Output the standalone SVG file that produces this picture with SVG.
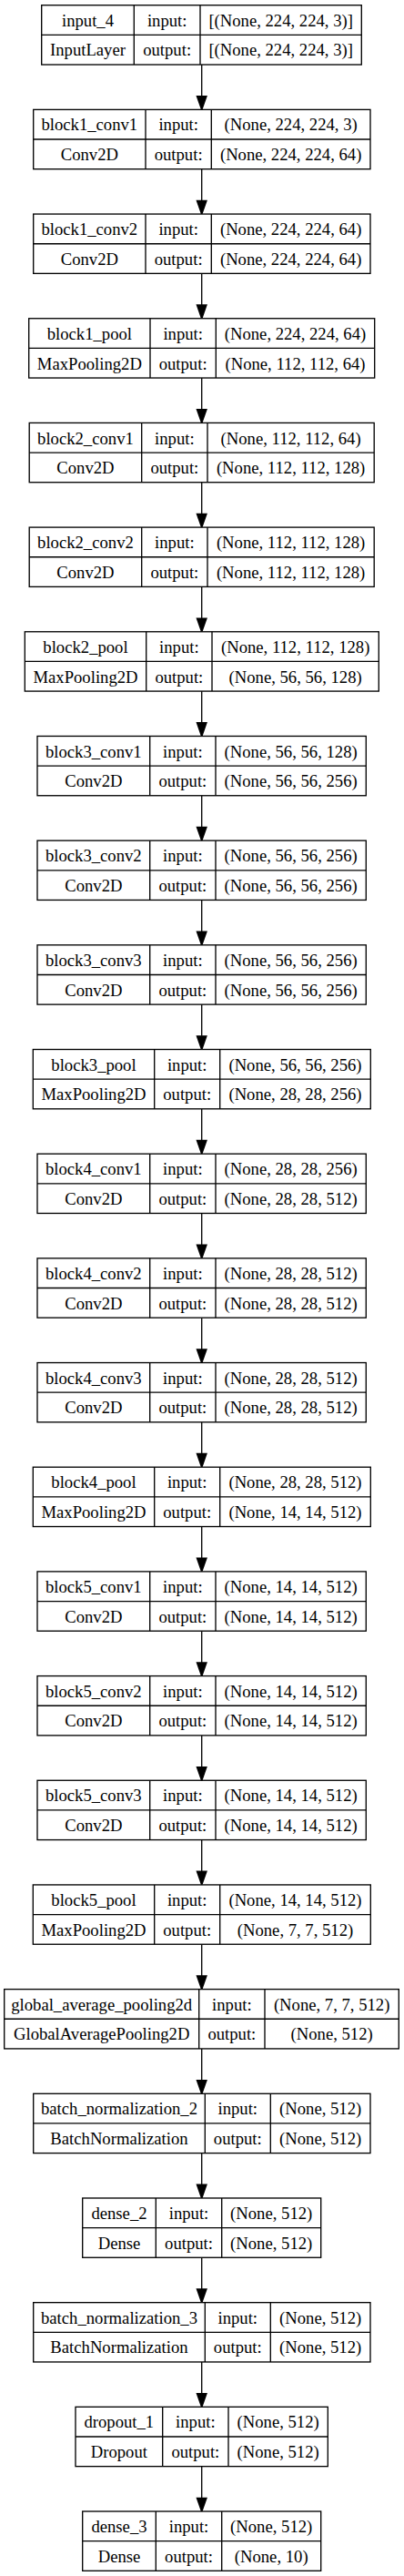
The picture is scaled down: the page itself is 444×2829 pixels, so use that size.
<svg xmlns="http://www.w3.org/2000/svg" width="444" height="2829" viewBox="0 0 444 2829">
<style>
.n rect{fill:#fff;stroke:#000;stroke-width:1.33}
.n path{fill:none;stroke:#000;stroke-width:1.33}
.n text{font-family:"Liberation Serif","Times New Roman",serif;font-size:18.67px;text-anchor:middle;fill:#000}
.e line{stroke:#000;stroke-width:1.33}
</style>
<defs>
<marker id="ah" markerUnits="userSpaceOnUse" markerWidth="20" markerHeight="20" refX="0" refY="0" orient="auto" overflow="visible" viewBox="-2 -8 18 16">
<path d="M0,-4.67 L13.33,0 L0,4.67 Z" fill="#000" stroke="#000" stroke-width="1.33"/>
</marker>
</defs>
<rect width="444" height="2829" fill="#fff"/>
<g id="edges" class="e">
<line x1="221.7" y1="71" x2="221.7" y2="105.75" marker-end="url(#ah)"/>
<line x1="221.7" y1="185.68" x2="221.7" y2="220.43" marker-end="url(#ah)"/>
<line x1="221.7" y1="300.36" x2="221.7" y2="335.11" marker-end="url(#ah)"/>
<line x1="221.7" y1="415.04" x2="221.7" y2="449.79" marker-end="url(#ah)"/>
<line x1="221.7" y1="529.72" x2="221.7" y2="564.47" marker-end="url(#ah)"/>
<line x1="221.7" y1="644.4" x2="221.7" y2="679.15" marker-end="url(#ah)"/>
<line x1="221.7" y1="759.08" x2="221.7" y2="793.83" marker-end="url(#ah)"/>
<line x1="221.7" y1="873.76" x2="221.7" y2="908.51" marker-end="url(#ah)"/>
<line x1="221.7" y1="988.44" x2="221.7" y2="1023.19" marker-end="url(#ah)"/>
<line x1="221.7" y1="1103.12" x2="221.7" y2="1137.87" marker-end="url(#ah)"/>
<line x1="221.7" y1="1217.8" x2="221.7" y2="1252.55" marker-end="url(#ah)"/>
<line x1="221.7" y1="1332.48" x2="221.7" y2="1367.23" marker-end="url(#ah)"/>
<line x1="221.7" y1="1447.16" x2="221.7" y2="1481.91" marker-end="url(#ah)"/>
<line x1="221.7" y1="1561.84" x2="221.7" y2="1596.59" marker-end="url(#ah)"/>
<line x1="221.7" y1="1676.52" x2="221.7" y2="1711.27" marker-end="url(#ah)"/>
<line x1="221.7" y1="1791.2" x2="221.7" y2="1825.95" marker-end="url(#ah)"/>
<line x1="221.7" y1="1905.88" x2="221.7" y2="1940.63" marker-end="url(#ah)"/>
<line x1="221.7" y1="2020.56" x2="221.7" y2="2055.31" marker-end="url(#ah)"/>
<line x1="221.7" y1="2135.24" x2="221.7" y2="2169.99" marker-end="url(#ah)"/>
<line x1="221.7" y1="2249.92" x2="221.7" y2="2284.67" marker-end="url(#ah)"/>
<line x1="221.7" y1="2364.6" x2="221.7" y2="2399.35" marker-end="url(#ah)"/>
<line x1="221.7" y1="2479.28" x2="221.7" y2="2514.03" marker-end="url(#ah)"/>
<line x1="221.7" y1="2593.96" x2="221.7" y2="2628.71" marker-end="url(#ah)"/>
<line x1="221.7" y1="2708.64" x2="221.7" y2="2743.39" marker-end="url(#ah)"/>
</g>
<g id="input_4" class="n" transform="translate(0,5.7)"><rect x="45.7" y="0" width="351.6" height="65.3"/><path d="M45.7,32.65H397.3M147.3,0V65.3M220,0V65.3"/><text x="96.5" y="23.1">input_4</text><text x="183.65" y="23.1">input:</text><text x="308.65" y="23.1">[(None, 224, 224, 3)]</text><text x="96.5" y="55.8">InputLayer</text><text x="183.65" y="55.8">output:</text><text x="308.65" y="55.8">[(None, 224, 224, 3)]</text></g>
<g id="block1_conv1" class="n" transform="translate(0,120.38)"><rect x="36.7" y="0" width="370.3" height="65.3"/><path d="M36.7,32.65H407M160,0V65.3M232.3,0V65.3"/><text x="98.35" y="23.1">block1_conv1</text><text x="196.15" y="23.1">input:</text><text x="319.65" y="23.1">(None, 224, 224, 3)</text><text x="98.35" y="55.8">Conv2D</text><text x="196.15" y="55.8">output:</text><text x="319.65" y="55.8">(None, 224, 224, 64)</text></g>
<g id="block1_conv2" class="n" transform="translate(0,235.06)"><rect x="36.7" y="0" width="370.3" height="65.3"/><path d="M36.7,32.65H407M160,0V65.3M232.3,0V65.3"/><text x="98.35" y="23.1">block1_conv2</text><text x="196.15" y="23.1">input:</text><text x="319.65" y="23.1">(None, 224, 224, 64)</text><text x="98.35" y="55.8">Conv2D</text><text x="196.15" y="55.8">output:</text><text x="319.65" y="55.8">(None, 224, 224, 64)</text></g>
<g id="block1_pool" class="n" transform="translate(0,349.74)"><rect x="31.7" y="0" width="380" height="65.3"/><path d="M31.7,32.65H411.7M165,0V65.3M237.3,0V65.3"/><text x="98.35" y="23.1">block1_pool</text><text x="201.15" y="23.1">input:</text><text x="324.5" y="23.1">(None, 224, 224, 64)</text><text x="98.35" y="55.8">MaxPooling2D</text><text x="201.15" y="55.8">output:</text><text x="324.5" y="55.8">(None, 112, 112, 64)</text></g>
<g id="block2_conv1" class="n" transform="translate(0,464.42)"><rect x="32.2" y="0" width="379" height="65.3"/><path d="M32.2,32.65H411.2M155.7,0V65.3M228,0V65.3"/><text x="93.95" y="23.1">block2_conv1</text><text x="191.85" y="23.1">input:</text><text x="319.6" y="23.1">(None, 112, 112, 64)</text><text x="93.95" y="55.8">Conv2D</text><text x="191.85" y="55.8">output:</text><text x="319.6" y="55.8">(None, 112, 112, 128)</text></g>
<g id="block2_conv2" class="n" transform="translate(0,579.1)"><rect x="32.2" y="0" width="379" height="65.3"/><path d="M32.2,32.65H411.2M155.7,0V65.3M228,0V65.3"/><text x="93.95" y="23.1">block2_conv2</text><text x="191.85" y="23.1">input:</text><text x="319.6" y="23.1">(None, 112, 112, 128)</text><text x="93.95" y="55.8">Conv2D</text><text x="191.85" y="55.8">output:</text><text x="319.6" y="55.8">(None, 112, 112, 128)</text></g>
<g id="block2_pool" class="n" transform="translate(0,693.78)"><rect x="27.3" y="0" width="389" height="65.3"/><path d="M27.3,32.65H416.3M160.7,0V65.3M233,0V65.3"/><text x="94" y="23.1">block2_pool</text><text x="196.85" y="23.1">input:</text><text x="324.65" y="23.1">(None, 112, 112, 128)</text><text x="94" y="55.8">MaxPooling2D</text><text x="196.85" y="55.8">output:</text><text x="324.65" y="55.8">(None, 56, 56, 128)</text></g>
<g id="block3_conv1" class="n" transform="translate(0,808.46)"><rect x="41" y="0" width="361.3" height="65.3"/><path d="M41,32.65H402.3M164.7,0V65.3M237,0V65.3"/><text x="102.85" y="23.1">block3_conv1</text><text x="200.85" y="23.1">input:</text><text x="319.65" y="23.1">(None, 56, 56, 128)</text><text x="102.85" y="55.8">Conv2D</text><text x="200.85" y="55.8">output:</text><text x="319.65" y="55.8">(None, 56, 56, 256)</text></g>
<g id="block3_conv2" class="n" transform="translate(0,923.14)"><rect x="41" y="0" width="361.3" height="65.3"/><path d="M41,32.65H402.3M164.7,0V65.3M237,0V65.3"/><text x="102.85" y="23.1">block3_conv2</text><text x="200.85" y="23.1">input:</text><text x="319.65" y="23.1">(None, 56, 56, 256)</text><text x="102.85" y="55.8">Conv2D</text><text x="200.85" y="55.8">output:</text><text x="319.65" y="55.8">(None, 56, 56, 256)</text></g>
<g id="block3_conv3" class="n" transform="translate(0,1037.82)"><rect x="41" y="0" width="361.3" height="65.3"/><path d="M41,32.65H402.3M164.7,0V65.3M237,0V65.3"/><text x="102.85" y="23.1">block3_conv3</text><text x="200.85" y="23.1">input:</text><text x="319.65" y="23.1">(None, 56, 56, 256)</text><text x="102.85" y="55.8">Conv2D</text><text x="200.85" y="55.8">output:</text><text x="319.65" y="55.8">(None, 56, 56, 256)</text></g>
<g id="block3_pool" class="n" transform="translate(0,1152.5)"><rect x="36.3" y="0" width="371" height="65.3"/><path d="M36.3,32.65H407.3M169.7,0V65.3M241.7,0V65.3"/><text x="103" y="23.1">block3_pool</text><text x="205.7" y="23.1">input:</text><text x="324.5" y="23.1">(None, 56, 56, 256)</text><text x="103" y="55.8">MaxPooling2D</text><text x="205.7" y="55.8">output:</text><text x="324.5" y="55.8">(None, 28, 28, 256)</text></g>
<g id="block4_conv1" class="n" transform="translate(0,1267.18)"><rect x="41" y="0" width="361.3" height="65.3"/><path d="M41,32.65H402.3M164.7,0V65.3M237,0V65.3"/><text x="102.85" y="23.1">block4_conv1</text><text x="200.85" y="23.1">input:</text><text x="319.65" y="23.1">(None, 28, 28, 256)</text><text x="102.85" y="55.8">Conv2D</text><text x="200.85" y="55.8">output:</text><text x="319.65" y="55.8">(None, 28, 28, 512)</text></g>
<g id="block4_conv2" class="n" transform="translate(0,1381.86)"><rect x="41" y="0" width="361.3" height="65.3"/><path d="M41,32.65H402.3M164.7,0V65.3M237,0V65.3"/><text x="102.85" y="23.1">block4_conv2</text><text x="200.85" y="23.1">input:</text><text x="319.65" y="23.1">(None, 28, 28, 512)</text><text x="102.85" y="55.8">Conv2D</text><text x="200.85" y="55.8">output:</text><text x="319.65" y="55.8">(None, 28, 28, 512)</text></g>
<g id="block4_conv3" class="n" transform="translate(0,1496.54)"><rect x="41" y="0" width="361.3" height="65.3"/><path d="M41,32.65H402.3M164.7,0V65.3M237,0V65.3"/><text x="102.85" y="23.1">block4_conv3</text><text x="200.85" y="23.1">input:</text><text x="319.65" y="23.1">(None, 28, 28, 512)</text><text x="102.85" y="55.8">Conv2D</text><text x="200.85" y="55.8">output:</text><text x="319.65" y="55.8">(None, 28, 28, 512)</text></g>
<g id="block4_pool" class="n" transform="translate(0,1611.22)"><rect x="36.3" y="0" width="371" height="65.3"/><path d="M36.3,32.65H407.3M169.7,0V65.3M241.7,0V65.3"/><text x="103" y="23.1">block4_pool</text><text x="205.7" y="23.1">input:</text><text x="324.5" y="23.1">(None, 28, 28, 512)</text><text x="103" y="55.8">MaxPooling2D</text><text x="205.7" y="55.8">output:</text><text x="324.5" y="55.8">(None, 14, 14, 512)</text></g>
<g id="block5_conv1" class="n" transform="translate(0,1725.9)"><rect x="41" y="0" width="361.3" height="65.3"/><path d="M41,32.65H402.3M164.7,0V65.3M237,0V65.3"/><text x="102.85" y="23.1">block5_conv1</text><text x="200.85" y="23.1">input:</text><text x="319.65" y="23.1">(None, 14, 14, 512)</text><text x="102.85" y="55.8">Conv2D</text><text x="200.85" y="55.8">output:</text><text x="319.65" y="55.8">(None, 14, 14, 512)</text></g>
<g id="block5_conv2" class="n" transform="translate(0,1840.58)"><rect x="41" y="0" width="361.3" height="65.3"/><path d="M41,32.65H402.3M164.7,0V65.3M237,0V65.3"/><text x="102.85" y="23.1">block5_conv2</text><text x="200.85" y="23.1">input:</text><text x="319.65" y="23.1">(None, 14, 14, 512)</text><text x="102.85" y="55.8">Conv2D</text><text x="200.85" y="55.8">output:</text><text x="319.65" y="55.8">(None, 14, 14, 512)</text></g>
<g id="block5_conv3" class="n" transform="translate(0,1955.26)"><rect x="41" y="0" width="361.3" height="65.3"/><path d="M41,32.65H402.3M164.7,0V65.3M237,0V65.3"/><text x="102.85" y="23.1">block5_conv3</text><text x="200.85" y="23.1">input:</text><text x="319.65" y="23.1">(None, 14, 14, 512)</text><text x="102.85" y="55.8">Conv2D</text><text x="200.85" y="55.8">output:</text><text x="319.65" y="55.8">(None, 14, 14, 512)</text></g>
<g id="block5_pool" class="n" transform="translate(0,2069.94)"><rect x="36.3" y="0" width="371" height="65.3"/><path d="M36.3,32.65H407.3M169.7,0V65.3M241.7,0V65.3"/><text x="103" y="23.1">block5_pool</text><text x="205.7" y="23.1">input:</text><text x="324.5" y="23.1">(None, 14, 14, 512)</text><text x="103" y="55.8">MaxPooling2D</text><text x="205.7" y="55.8">output:</text><text x="324.5" y="55.8">(None, 7, 7, 512)</text></g>
<g id="global_average_pooling2d" class="n" transform="translate(0,2184.62)"><rect x="4.7" y="0" width="433.6" height="65.3"/><path d="M4.7,32.65H438.3M218.7,0V65.3M291,0V65.3"/><text x="111.7" y="23.1">global_average_pooling2d</text><text x="254.85" y="23.1">input:</text><text x="364.65" y="23.1">(None, 7, 7, 512)</text><text x="111.7" y="55.8">GlobalAveragePooling2D</text><text x="254.85" y="55.8">output:</text><text x="364.65" y="55.8">(None, 512)</text></g>
<g id="batch_normalization_2" class="n" transform="translate(0,2299.3)"><rect x="36.7" y="0" width="370.3" height="65.3"/><path d="M36.7,32.65H407M225.3,0V65.3M297.3,0V65.3"/><text x="131" y="23.1">batch_normalization_2</text><text x="261.3" y="23.1">input:</text><text x="352.15" y="23.1">(None, 512)</text><text x="131" y="55.8">BatchNormalization</text><text x="261.3" y="55.8">output:</text><text x="352.15" y="55.8">(None, 512)</text></g>
<g id="dense_2" class="n" transform="translate(0,2413.98)"><rect x="90.7" y="0" width="262" height="65.3"/><path d="M90.7,32.65H352.7M171.3,0V65.3M243.7,0V65.3"/><text x="131" y="23.1">dense_2</text><text x="207.5" y="23.1">input:</text><text x="298.2" y="23.1">(None, 512)</text><text x="131" y="55.8">Dense</text><text x="207.5" y="55.8">output:</text><text x="298.2" y="55.8">(None, 512)</text></g>
<g id="batch_normalization_3" class="n" transform="translate(0,2528.66)"><rect x="36.7" y="0" width="370.3" height="65.3"/><path d="M36.7,32.65H407M225.3,0V65.3M297.3,0V65.3"/><text x="131" y="23.1">batch_normalization_3</text><text x="261.3" y="23.1">input:</text><text x="352.15" y="23.1">(None, 512)</text><text x="131" y="55.8">BatchNormalization</text><text x="261.3" y="55.8">output:</text><text x="352.15" y="55.8">(None, 512)</text></g>
<g id="dropout_1" class="n" transform="translate(0,2643.34)"><rect x="83" y="0" width="277.3" height="65.3"/><path d="M83,32.65H360.3M178.7,0V65.3M251,0V65.3"/><text x="130.85" y="23.1">dropout_1</text><text x="214.85" y="23.1">input:</text><text x="305.65" y="23.1">(None, 512)</text><text x="130.85" y="55.8">Dropout</text><text x="214.85" y="55.8">output:</text><text x="305.65" y="55.8">(None, 512)</text></g>
<g id="dense_3" class="n" transform="translate(0,2758.02)"><rect x="90.7" y="0" width="262" height="65.3"/><path d="M90.7,32.65H352.7M171.3,0V65.3M243.7,0V65.3"/><text x="131" y="23.1">dense_3</text><text x="207.5" y="23.1">input:</text><text x="298.2" y="23.1">(None, 512)</text><text x="131" y="55.8">Dense</text><text x="207.5" y="55.8">output:</text><text x="298.2" y="55.8">(None, 10)</text></g>
</svg>
